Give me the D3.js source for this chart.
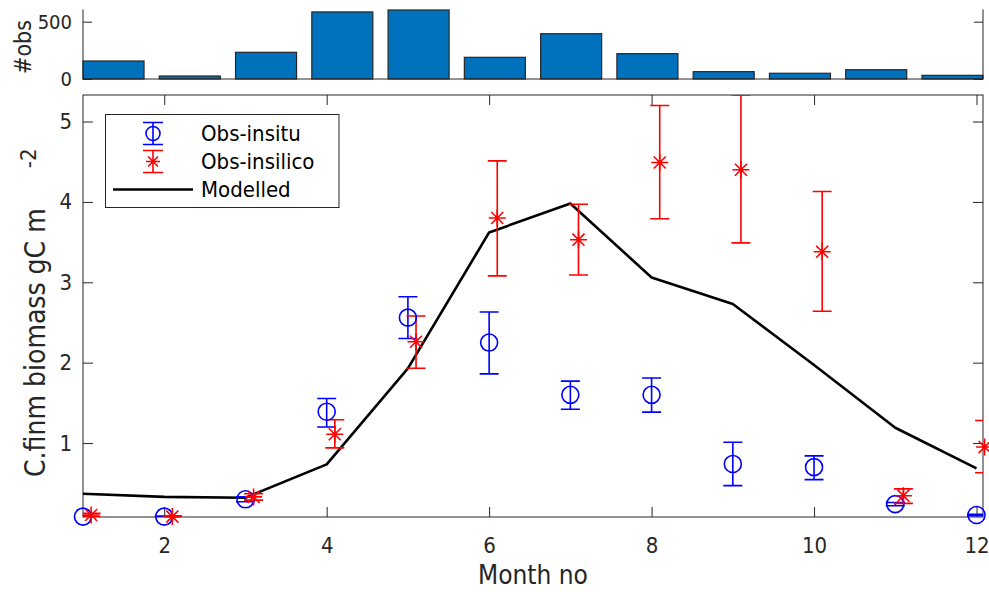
<!DOCTYPE html>
<html>
<head>
<meta charset="utf-8" />
<style>
  body { margin: 0; background: #fff; }
  svg { display: block; }
  text { font-family: "DejaVu Sans Condensed", "DejaVu Sans", sans-serif; fill: #262626; }
</style>
<script src="https://cdnjs.cloudflare.com/ajax/libs/d3/7.8.5/d3.min.js"></script>
</head>
<body>
<div id="graph"></div>
<script>
// month numbers and number of observations per month
var months = [1, 2, 3, 4, 5, 6, 7, 8, 9, 10, 11, 12];
var nObs = [157, 26, 233, 585, 602, 189, 395, 221, 64, 50, 81, 32];

// modelled biomass
var modelled = [0.37, 0.33, 0.32, 0.735, 1.93, 3.62, 3.98, 3.06, 2.73, 1.97, 1.19, 0.686];

// in situ observations with error range
var insitu   = [0.085, 0.085, 0.30, 1.39, 2.56, 2.25, 1.60, 1.60, 0.74, 0.70, 0.24, 0.105];
var insituLo = [0.075, 0.078, 0.27, 1.20, 2.30, 1.86, 1.42, 1.385, 0.47, 0.545, 0.22, 0.095];
var insituHi = [0.095, 0.092, 0.33, 1.555, 2.82, 2.63, 1.77, 1.81, 1.01, 0.84, 0.26, 0.115];

// in silico observations with error range
var insilico   = [0.105, 0.085, 0.33, 1.11, 2.26, 3.80, 3.53, 4.49, 4.40, 3.38, 0.345, 0.95];
var insilicoLo = [0.085, 0.075, 0.29, 0.94, 1.93, 3.08, 3.09, 3.79, 3.49, 2.64, 0.25, 0.63];
var insilicoHi = [0.125, 0.095, 0.37, 1.29, 2.58, 4.51, 3.97, 5.20, 5.33, 4.13, 0.43, 1.28];

var xTicks = [2, 4, 6, 8, 10, 12];
var yTicks = [1, 2, 3, 4, 5];
var obsTicks = [0, 500];
var legendLabels = ["Obs-insitu", "Obs-insilico", "Modelled"];

var W = 989, H = 592;
var axisCol = "#262626";
var shift = 0.1; // in silico points drawn slightly right of the month

var svg = d3.select("#graph").append("svg")
  .attr("width", W).attr("height", H);

// ---------- top bar panel ----------
var xb = d3.scaleLinear().domain([0.6, 12.4]).range([83, 983]);
var yb = d3.scaleLinear().domain([0, 608]).range([79, 9.3]);

var barG = svg.append("g");

barG.selectAll("rect.bar")
  .data(months)
  .enter().append("rect")
  .attr("class", "bar")
  .attr("x", function (d) { return xb(d - 0.4); })
  .attr("width", function (d) { return xb(d + 0.4) - xb(d - 0.4); })
  .attr("y", function (d, i) { return yb(nObs[i]); })
  .attr("height", function (d, i) { return yb(0) - yb(nObs[i]); })
  .style("fill", "#0072BD")
  .style("stroke", axisCol)
  .style("stroke-width", 1.2);

var obsLeft = d3.axisLeft(yb).tickValues(obsTicks).tickSizeInner(-9).tickSizeOuter(0).tickPadding(11);
var gl = barG.append("g").attr("transform", "translate(83,0)").call(obsLeft);
gl.select(".domain").remove();
gl.selectAll("text").style("font-size", "20px").style("fill", axisCol);
gl.selectAll("line").style("stroke", axisCol);

var obsRight = d3.axisRight(yb).tickValues(obsTicks).tickSizeInner(-9).tickSizeOuter(0).tickFormat("");
var gr = barG.append("g").attr("transform", "translate(983,0)").call(obsRight);
gr.select(".domain").remove();
gr.selectAll("line").style("stroke", axisCol);

barG.append("path")
  .attr("d", "M83," + yb(608) + "V" + yb(0) + "H983V" + yb(608))
  .style("fill", "none").style("stroke", axisCol).style("stroke-width", 1);

barG.append("text")
  .attr("transform", "translate(31,47) rotate(-90)")
  .attr("text-anchor", "middle")
  .style("font-size", "23px")
  .text("#obs");

// ---------- main panel ----------
var x = d3.scaleLinear().domain([1, 12.08]).range([83, 983]);
var y = d3.scaleLinear().domain([0.08, 5.33]).range([517, 95]);

var main = svg.append("g");

main.append("defs").append("clipPath").attr("id", "clip")
  .append("rect").attr("x", 83).attr("y", 95).attr("width", 900).attr("height", 422);

// axes
var xAxis = d3.axisBottom(x).tickValues(xTicks).tickSizeInner(-10).tickSizeOuter(0).tickPadding(20);
var gx = main.append("g").attr("transform", "translate(0,517)").call(xAxis);
var xTop = d3.axisTop(x).tickValues(xTicks).tickSizeInner(-10).tickSizeOuter(0).tickFormat("");
var gxt = main.append("g").attr("transform", "translate(0,95)").call(xTop);
var yAxis = d3.axisLeft(y).tickValues(yTicks).tickFormat(d3.format("d"))
  .tickSizeInner(-10).tickSizeOuter(0).tickPadding(11);
var gy = main.append("g").attr("transform", "translate(83,0)").call(yAxis);
var yRight = d3.axisRight(y).tickValues(yTicks).tickSizeInner(-10).tickSizeOuter(0).tickFormat("");
var gyr = main.append("g").attr("transform", "translate(983,0)").call(yRight);

[gx, gxt, gy, gyr].forEach(function (g) {
  g.select(".domain").remove();
  g.selectAll("line").style("stroke", axisCol);
  g.selectAll("text").style("font-size", "22px").style("fill", axisCol);
});

main.append("rect")
  .attr("x", 83).attr("y", 95).attr("width", 900).attr("height", 422)
  .style("fill", "none").style("stroke", axisCol).style("stroke-width", 1);

// modelled line
var line = d3.line()
  .x(function (d) { return x(d); })
  .y(function (d, i) { return y(modelled[i]); });

main.append("path")
  .datum(months)
  .attr("d", line)
  .attr("clip-path", "url(#clip)")
  .style("fill", "none").style("stroke", "#000").style("stroke-width", 2.6)
  .style("stroke-linejoin", "round");

// error bars
function errorBars(cls, vals, lo, hi, dx, col) {
  var g = main.append("g").attr("clip-path", "url(#clip)");
  var cap = 9.5;
  months.forEach(function (m, i) {
    var cx = x(m + dx);
    var path = "M" + cx + "," + y(lo[i]) + "V" + y(hi[i]) +
      "M" + (cx - cap) + "," + y(hi[i]) + "H" + (cx + cap) +
      "M" + (cx - cap) + "," + y(lo[i]) + "H" + (cx + cap);
    g.append("path").attr("class", cls).attr("d", path)
      .style("fill", "none").style("stroke", col).style("stroke-width", 1.6);
  });
}

errorBars("err-insitu", insitu, insituLo, insituHi, 0, "#0000FF");
errorBars("err-insilico", insilico, insilicoLo, insilicoHi, shift, "#FF0000");

function starPath(cx, cy, r) {
  var d = r * Math.SQRT1_2;
  return "M" + (cx - r) + "," + cy + "H" + (cx + r) +
    "M" + cx + "," + (cy - r) + "V" + (cy + r) +
    "M" + (cx - d) + "," + (cy - d) + "L" + (cx + d) + "," + (cy + d) +
    "M" + (cx - d) + "," + (cy + d) + "L" + (cx + d) + "," + (cy - d);
}

main.selectAll("circle.insitu")
  .data(months)
  .enter().append("circle")
  .attr("class", "insitu")
  .attr("cx", function (d) { return x(d); })
  .attr("cy", function (d, i) { return y(insitu[i]); })
  .attr("r", 8.5)
  .style("fill", "none").style("stroke", "#0000FF").style("stroke-width", 1.6);

main.selectAll("path.insilico")
  .data(months)
  .enter().append("path")
  .attr("class", "insilico")
  .attr("d", function (d, i) { return starPath(x(d + shift), y(insilico[i]), 8.5); })
  .style("fill", "none").style("stroke", "#FF0000").style("stroke-width", 1.6);

// axis labels
var yl = main.append("text")
  .attr("transform", "translate(45,477) rotate(-90)")
  .attr("text-anchor", "start")
  .style("font-size", "28px");
yl.append("tspan").text("C.finm biomass gC m");
yl.append("tspan").attr("dx", 40).attr("dy", -9).style("font-size", "22px").text("-2");

main.append("text")
  .attr("x", (83 + 983) / 2).attr("y", 584)
  .attr("text-anchor", "middle")
  .style("font-size", "26px")
  .text("Month no");

// legend
var lg = main.append("g");
lg.append("rect")
  .attr("x", 105.5).attr("y", 114.5).attr("width", 233.5).attr("height", 93)
  .style("fill", "#fff").style("stroke", axisCol).style("stroke-width", 1);

var rows = [133.5, 161.5, 189.5];
var mx = 153;

// insitu sample
lg.append("path")
  .attr("d", "M" + mx + "," + (rows[0] - 11) + "V" + (rows[0] + 11) +
    "M" + (mx - 10) + "," + (rows[0] - 11) + "H" + (mx + 10) +
    "M" + (mx - 10) + "," + (rows[0] + 11) + "H" + (mx + 10))
  .style("fill", "none").style("stroke", "#0000FF").style("stroke-width", 1.6);
lg.append("circle").attr("cx", mx).attr("cy", rows[0]).attr("r", 7)
  .style("fill", "none").style("stroke", "#0000FF").style("stroke-width", 1.6);

// insilico sample
lg.append("path")
  .attr("d", "M" + mx + "," + (rows[1] - 11) + "V" + (rows[1] + 11) +
    "M" + (mx - 10) + "," + (rows[1] - 11) + "H" + (mx + 10) +
    "M" + (mx - 10) + "," + (rows[1] + 11) + "H" + (mx + 10) + starPath(mx, rows[1], 7))
  .style("fill", "none").style("stroke", "#FF0000").style("stroke-width", 1.6);

// modelled sample
lg.append("line")
  .attr("x1", 113).attr("x2", 193).attr("y1", rows[2]).attr("y2", rows[2])
  .style("stroke", "#000").style("stroke-width", 2.6);

lg.selectAll("text.leg")
  .data(legendLabels)
  .enter().append("text")
  .attr("class", "leg")
  .attr("x", 201)
  .attr("y", function (d, i) { return rows[i]; })
  .attr("dy", "0.36em")
  .style("font-size", "22px")
  .style("fill", "#000")
  .text(function (d) { return d; });
</script>
</body>
</html>
